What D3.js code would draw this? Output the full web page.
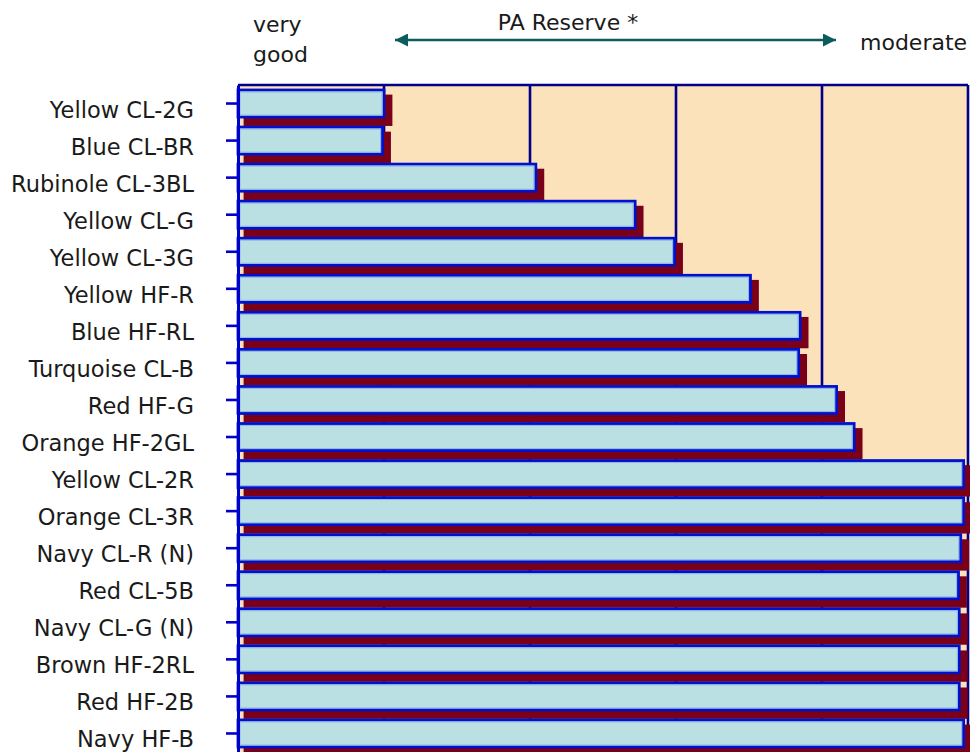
<!DOCTYPE html>
<html>
<head>
<meta charset="utf-8">
<script src="https://cdn.jsdelivr.net/npm/d3@7"></script>
<style>
  html, body { margin: 0; padding: 0; background: #ffffff; }
  svg { display: block; }
  text { font-family: "DejaVu Sans", sans-serif; fill: #1a1a1a; }
</style>
</head>
<body>
<svg id="chart" width="970" height="752"></svg>
<script>
// Dye categories, top to bottom
const categories = [
  "Yellow CL-2G", "Blue CL-BR", "Rubinole CL-3BL", "Yellow CL-G", "Yellow CL-3G",
  "Yellow HF-R", "Blue HF-RL", "Turquoise CL-B", "Red HF-G", "Orange HF-2GL",
  "Yellow CL-2R", "Orange CL-3R", "Navy CL-R (N)", "Red CL-5B", "Navy CL-G (N)",
  "Brown HF-2RL", "Red HF-2B", "Navy HF-B"
];

// PA reserve rating per dye (0 = very good ... 5 = moderate)
const reserveValues = [
  1.00, 0.99, 2.04, 2.72, 2.99,
  3.51, 3.85, 3.84, 4.10, 4.22,
  4.97, 4.97, 4.95, 4.935, 4.94,
  4.94, 4.94, 4.97
];

// Grid positions along the rating scale
const gridTicks = [1, 2, 3, 4, 5];

const headerLeft = ["very", "good"];
const headerTitle = "PA Reserve *";
const headerRight = "moderate";

const svg = d3.select("#chart");

const plot = { left: 238, right: 968, top: 85, bottom: 752 };

const x = d3.scaleLinear().domain([0, 5]).range([plot.left, plot.right]);
const y = d3.scaleBand()
  .domain(categories)
  .range([plot.top, plot.bottom])
  .paddingInner(0.27)
  .paddingOuter(0.135);

const rows = categories.map((c, i) => ({ name: c, value: reserveValues[i] }));

const barStroke = 2.8;
const half = barStroke / 2;

// Plot background
svg.append("rect")
  .attr("x", plot.left).attr("y", plot.top)
  .attr("width", plot.right - plot.left)
  .attr("height", plot.bottom - plot.top)
  .attr("fill", "#fce2bb");

// Vertical grid lines
svg.append("g")
  .selectAll("line")
  .data(gridTicks)
  .join("line")
  .attr("x1", d => x(d)).attr("x2", d => x(d))
  .attr("y1", plot.top).attr("y2", plot.bottom)
  .attr("stroke", "#000088")
  .attr("stroke-width", 2.6);

// Top border
svg.append("line")
  .attr("x1", plot.left).attr("x2", plot.right)
  .attr("y1", plot.top).attr("y2", plot.top)
  .attr("stroke", "#000088")
  .attr("stroke-width", 2.6);

// Bar shadows (outline box shifted right and down)
const shadowDx = 7, shadowDy = 6;
svg.append("g")
  .selectAll("rect")
  .data(rows)
  .join("rect")
  .attr("x", x(0) - half + shadowDx)
  .attr("y", d => y(d.name) - half + shadowDy)
  .attr("width", d => x(d.value) - x(0) + barStroke)
  .attr("height", y.bandwidth() + barStroke + 1.5)
  .attr("fill", "#7a0019");

// Bars
const bars = svg.append("g");
bars.selectAll("rect.bar")
  .data(rows)
  .join("rect")
  .attr("class", "bar")
  .attr("x", x(0))
  .attr("y", d => y(d.name))
  .attr("width", d => x(d.value) - x(0))
  .attr("height", y.bandwidth())
  .attr("fill", "#bbe0e3")
  .attr("stroke", "#0011cc")
  .attr("stroke-width", barStroke);

// Soft inner edge of each bar
bars.selectAll("rect.edge")
  .data(rows)
  .join("rect")
  .attr("class", "edge")
  .attr("x", x(0) + 2)
  .attr("y", d => y(d.name) + 2)
  .attr("width", d => x(d.value) - x(0) - 4)
  .attr("height", y.bandwidth() - 4)
  .attr("fill", "none")
  .attr("stroke", "#8fb4e6")
  .attr("stroke-width", 1);

// Category axis on the left
const yAxis = d3.axisLeft(y).tickSize(12).tickSizeOuter(0).tickPadding(32);
const axisG = svg.append("g")
  .attr("transform", `translate(${plot.left},0)`)
  .call(yAxis);
axisG.select(".domain")
  .attr("stroke", "#0000cc")
  .attr("stroke-width", 3);
axisG.selectAll(".tick line")
  .attr("stroke", "#0000cc")
  .attr("stroke-width", 2.6);
axisG.selectAll(".tick text")
  .attr("font-family", "DejaVu Sans, sans-serif")
  .attr("font-size", 22.5)
  .attr("fill", "#1a1a1a")
  .attr("dy", null)
  .attr("y", 14);

// Header: scale direction
svg.append("text")
  .attr("x", 253).attr("y", 32)
  .attr("font-size", 22)
  .selectAll("tspan")
  .data(headerLeft)
  .join("tspan")
  .attr("x", 253)
  .attr("dy", (d, i) => i === 0 ? 0 : 30)
  .text(d => d);

svg.append("text")
  .attr("x", 568).attr("y", 30)
  .attr("text-anchor", "middle")
  .attr("font-size", 22)
  .text(headerTitle);

svg.append("text")
  .attr("x", 860).attr("y", 50)
  .attr("font-size", 22)
  .text(headerRight);

// Double-headed arrow
const defs = svg.append("defs");
defs.append("marker")
  .attr("id", "arrowHead")
  .attr("viewBox", "0 0 10 10")
  .attr("refX", 10).attr("refY", 5)
  .attr("markerWidth", 14).attr("markerHeight", 13)
  .attr("markerUnits", "userSpaceOnUse")
  .attr("orient", "auto-start-reverse")
  .append("path")
  .attr("d", "M0,0 L10,5 L0,10 Z")
  .attr("fill", "#0b5c5c");

svg.append("line")
  .attr("x1", 395).attr("x2", 836)
  .attr("y1", 40).attr("y2", 40)
  .attr("stroke", "#0b5c5c")
  .attr("stroke-width", 2.6)
  .attr("marker-start", "url(#arrowHead)")
  .attr("marker-end", "url(#arrowHead)");
</script>
</body>
</html>
